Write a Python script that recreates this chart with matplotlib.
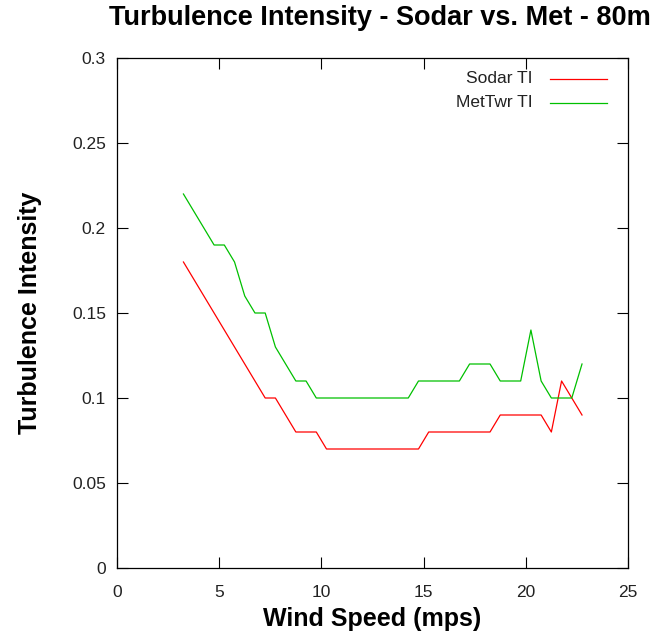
import matplotlib
matplotlib.use('Agg')
import matplotlib.pyplot as plt
from matplotlib.lines import Line2D

plt.rcParams['font.family'] = ['Liberation Sans', 'DejaVu Sans']

wind_speed = [3.25, 3.75, 4.25, 4.75, 5.25, 5.75, 6.25, 6.75, 7.25, 7.75,
              8.25, 8.75, 9.25, 9.75, 10.25, 10.75, 11.25, 11.75, 12.25, 12.75,
              13.25, 13.75, 14.25, 14.75, 15.25, 15.75, 16.25, 16.75, 17.25, 17.75,
              18.25, 18.75, 19.25, 19.75, 20.25, 20.75, 21.25, 21.75, 22.25, 22.75]

sodar_ti = [0.18, 0.17, 0.16, 0.15, 0.14, 0.13, 0.12, 0.11, 0.10, 0.10,
            0.09, 0.08, 0.08, 0.08, 0.07, 0.07, 0.07, 0.07, 0.07, 0.07,
            0.07, 0.07, 0.07, 0.07, 0.08, 0.08, 0.08, 0.08, 0.08, 0.08,
            0.08, 0.09, 0.09, 0.09, 0.09, 0.09, 0.08, 0.11, 0.10, 0.09]

mettwr_ti = [0.22, 0.21, 0.20, 0.19, 0.19, 0.18, 0.16, 0.15, 0.15, 0.13,
             0.12, 0.11, 0.11, 0.10, 0.10, 0.10, 0.10, 0.10, 0.10, 0.10,
             0.10, 0.10, 0.10, 0.11, 0.11, 0.11, 0.11, 0.11, 0.12, 0.12,
             0.12, 0.11, 0.11, 0.11, 0.14, 0.11, 0.10, 0.10, 0.10, 0.12]

series_names = ['Sodar TI', 'MetTwr TI']
series_colors = ['#ff0000', '#00c000']

x_ticks = [0, 5, 10, 15, 20, 25]
y_ticks = [0, 0.05, 0.1, 0.15, 0.2, 0.25, 0.3]
y_tick_labels = ['0', '0.05', '0.1', '0.15', '0.2', '0.25', '0.3']

fig = plt.figure(figsize=(6.53, 6.37), dpi=100)
ax = fig.add_axes([117/653, 69/637, 511/653, 510/637])

ax.plot(wind_speed, sodar_ti, color=series_colors[0], lw=0.9)
ax.plot(wind_speed, mettwr_ti, color=series_colors[1], lw=0.9)

ax.set_xlim(0, 25)
ax.set_ylim(0, 0.3)
ax.set_xticks(x_ticks)
ax.set_yticks(y_ticks)
ax.set_yticklabels(y_tick_labels)
ax.tick_params(direction='in', length=8, width=0.8, top=True, right=True,
               labelsize=12.5, labelcolor='#222222')
ax.tick_params(axis='x', pad=12)
ax.tick_params(axis='y', pad=8)
for s in ax.spines.values():
    s.set_linewidth(0.9)

# gnuplot-style key: text right-aligned, sample line to the right
key_y = [0.959, 0.912]
for name, col, ky in zip(series_names, series_colors, key_y):
    ax.text(0.814, ky, name, transform=ax.transAxes, ha='right', va='center',
            fontsize=12.5, color='#222222')
    ax.add_line(Line2D([0.847, 0.959], [ky, ky], transform=ax.transAxes,
                       color=col, lw=0.9))

ax.set_xlabel('Wind Speed (mps)', fontsize=18, fontweight='bold', labelpad=5)
ax.yaxis.set_label_coords(-(117 - 30) / 511, 0.5)
ax.set_ylabel('Turbulence Intensity', fontsize=18, fontweight='bold', va='center')
fig.text(380/653, 1 - 18/637, 'Turbulence Intensity - Sodar vs. Met - 80m',
         ha='center', va='center', fontsize=19.5, fontweight='bold')

fig.savefig('out.png', dpi=100)
